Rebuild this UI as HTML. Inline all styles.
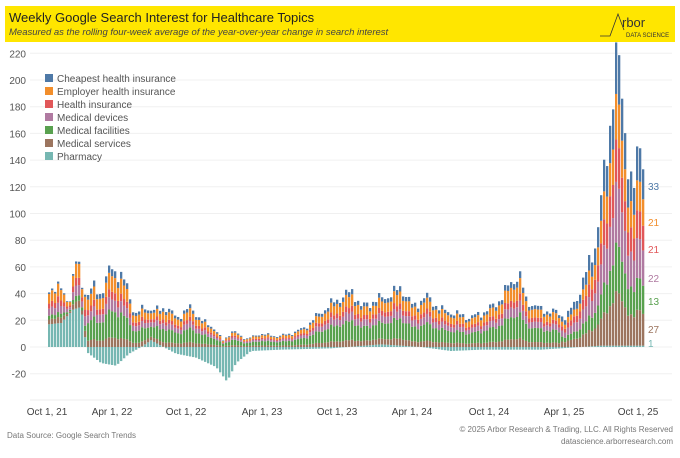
<!DOCTYPE html>
<html><head><meta charset="utf-8"><style>
body{margin:0;width:680px;height:453px;background:#fff;overflow:hidden;font-family:"Liberation Sans",sans-serif;}
</style></head><body>
<svg id="s" width="680" height="453" xmlns="http://www.w3.org/2000/svg" font-family="Liberation Sans, sans-serif">
<rect x="5" y="6" width="670" height="36" fill="#ffe600"/>
<text x="9" y="22" font-size="13" fill="#222">Weekly Google Search Interest for Healthcare Topics</text>
<text x="9" y="35" font-size="9.5" font-style="italic" fill="#444">Measured as the rolling four-week average of the year-over-year change in search interest</text>
<path d="M600 36 L610 36 L618 14 L624 30" stroke="#333" fill="none" stroke-width="0.8"/>
<text x="622" y="27" font-size="13" fill="#333">rbor</text>
<text x="626" y="37" font-size="6" fill="#333">DATA SCIENCE</text>
<g id="grid"></g>
<g id="bars"></g>
<g font-size="10" fill="#555">
<rect x="45" y="74" width="8" height="8" fill="#4e79a7"/><text x="57" y="82">Cheapest health insurance</text>
<rect x="45" y="87" width="8" height="8" fill="#f28e2b"/><text x="57" y="95">Employer health insurance</text>
<rect x="45" y="100" width="8" height="8" fill="#e15759"/><text x="57" y="108">Health insurance</text>
<rect x="45" y="113" width="8" height="8" fill="#b07aa1"/><text x="57" y="121">Medical devices</text>
<rect x="45" y="126" width="8" height="8" fill="#59a14f"/><text x="57" y="134">Medical facilities</text>
<rect x="45" y="139" width="8" height="8" fill="#9c755f"/><text x="57" y="147">Medical services</text>
<rect x="45" y="152" width="8" height="8" fill="#76b7b2"/><text x="57" y="160">Pharmacy</text>
</g>
<g font-size="10">
<text x="648" y="190" fill="#4e79a7">33</text>
<text x="648" y="226" fill="#f28e2b">21</text>
<text x="648" y="253" fill="#e15759">21</text>
<text x="648" y="282" fill="#b07aa1">22</text>
<text x="648" y="305" fill="#59a14f">13</text>
<text x="648" y="333" fill="#9c755f">27</text>
<text x="648" y="347" fill="#76b7b2">1</text>
</g>
<g id="xl" font-size="10" fill="#444" text-anchor="middle">
<text x="47" y="415">Oct 1, 21</text><text x="112" y="415">Apr 1, 22</text><text x="186" y="415">Oct 1, 22</text>
<text x="262" y="415">Apr 1, 23</text><text x="337" y="415">Oct 1, 23</text><text x="412" y="415">Apr 1, 24</text>
<text x="489" y="415">Oct 1, 24</text><text x="564" y="415">Apr 1, 25</text><text x="638" y="415">Oct 1, 25</text>
</g>
<text x="7" y="438" font-size="8" fill="#777">Data Source: Google Search Trends</text>
<text x="673" y="432" font-size="8" fill="#777" text-anchor="end">© 2025 Arbor Research &amp; Trading, LLC. All Rights Reserved</text>
<text x="673" y="444" font-size="8" fill="#777" text-anchor="end">datascience.arborresearch.com</text>
</svg>
<script>
var NS="http://www.w3.org/2000/svg",s=document.getElementById("s");
function el(p,t,a){var e=document.createElementNS(NS,t);for(var k in a)e.setAttribute(k,a[k]);p.appendChild(e);return e;}
var Y0=347,K=26.7/20;function Y(v){return Y0-v*K;}
var g=document.getElementById("grid");
for(var v=-20;v<=220;v+=20){el(g,"line",{x1:30,x2:672,y1:Y(v),y2:Y(v),stroke:"#f0f0f0","stroke-width":1});
var t=el(g,"text",{x:26,y:Y(v)+4,"font-size":10,fill:"#555","text-anchor":"end"});t.textContent=v;}
el(g,"line",{x1:30,x2:672,y1:400,y2:400,stroke:"#eee"});
var T=[[48,43],[55,47],[62,40],[68,34],[74,60],[76,66],[80,50],[86,38],[92,45],[100,40],[110,60],[118,55],[126,45],[134,24],[144,30],[154,27],[164,30],[176,22],[190,30],[200,20],[212,15],[222,5],[232,12],[245,6],[260,10],[275,8],[290,10],[305,15],[318,25],[335,35],[352,42],[360,30],[375,35],[392,40],[400,45],[412,30],[425,38],[440,28],[455,25],[468,22],[480,25],[495,32],[510,48],[518,55],[525,35],[540,28],[555,26],[565,22],[575,35],[585,55],[595,80],[602,120],[608,160],[613,205],[616,214],[620,195],[624,165],[628,135],[632,108],[636,140],[640,165],[644,128]];
var P=[[48,17],[60,18],[72,28],[80,30],[86,-4],[100,-12],[115,-14],[128,-5],[140,0],[150,5],[160,1],[175,-5],[195,-8],[215,-15],[226,-26],[235,-12],[250,-3],[280,-2],[330,-1],[380,2],[420,0],[450,-3],[480,-2],[540,-2],[600,1],[644,1]];
function interp(A,x){if(x<=A[0][0])return A[0][1];for(var i=1;i<A.length;i++)if(x<=A[i][0]){var a=A[i-1],b=A[i];return a[1]+(b[1]-a[1])*(x-a[0])/(b[0]-a[0]);}return A[A.length-1][1];}
var cols=["#9c755f","#59a14f","#b07aa1","#e15759","#f28e2b","#4e79a7"];
var bg=document.getElementById("bars");
for(var x=48;x<=644;x+=3){
 var tot=interp(T,x)*(1+0.08*Math.sin(x*1.7)+0.06*Math.sin(x*0.9)),ph=interp(P,x);
 var tp=Math.max(ph,0),rest=tot-tp;if(rest<2)rest=2;
 var f=x>560?[0.18,0.16,0.2,0.14,0.15,0.17]:(x<86?[0.15,0.12,0.22,0.16,0.3,0.05]:[0.12,0.34,0.15,0.1,0.2,0.09]);
 var y=Y0;
 if(ph>0){el(bg,"rect",{x:x,y:Y(ph),width:2.3,height:ph*K,fill:"#76b7b2"});y=Y(ph);}
 else{el(bg,"rect",{x:x,y:Y0,width:2.3,height:-ph*K,fill:"#76b7b2"});}
 for(var i=0;i<6;i++){var h=rest*f[i]*K;el(bg,"rect",{x:x,y:y-h,width:2.3,height:h,fill:cols[i]});y-=h;}
}
</script>
</body></html>
